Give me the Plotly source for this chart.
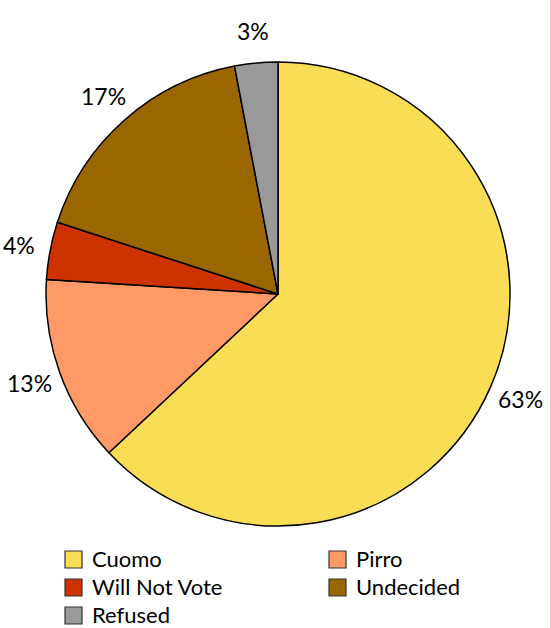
import math
import plotly.graph_objects as go

# Poll results: share of respondents by choice
choices = ["Cuomo", "Pirro", "Will Not Vote", "Undecided", "Refused"]
shares = [63, 13, 4, 17, 3]
slice_colors = ["#F9DE55", "#FF9966", "#CC3300", "#996600", "#999999"]

W, H = 551, 628
cx, cy, R = 278, 294, 232          # pie centre and radius in pixels
label_r = 264                      # distance of percent labels from centre
font_family = "Lato, 'Open Sans', sans-serif"

fig = go.Figure(
    go.Pie(
        labels=choices,
        values=shares,
        sort=False,
        direction="clockwise",
        rotation=0,
        textinfo="none",
        hoverinfo="label+percent",
        showlegend=False,
        marker=dict(colors=slice_colors, line=dict(color="#000000", width=1.5)),
        domain=dict(x=[(cx - R) / W, (cx + R) / W],
                    y=[1 - (cy + R) / H, 1 - (cy - R) / H]),
    )
)

# Percent labels just outside each slice, at the slice's mid-angle
total = sum(shares)
cum = 0
annotations = []
for v in shares:
    mid = (cum + v / 2) / total * 2 * math.pi
    cum += v
    px = cx + label_r * math.sin(mid)
    py = cy - label_r * math.cos(mid)
    annotations.append(dict(
        x=px / W, y=1 - py / H, xref="paper", yref="paper",
        text=f"{v}%", showarrow=False,
        font=dict(family=font_family, size=23, color="#000000"),
        xanchor="center", yanchor="middle",
    ))

# Two-column legend below the pie: coloured square + label
shapes = []
col_x = [65, 329]
row_y0, row_step, box = 559.5, 28, 17
for i, (name, col) in enumerate(zip(choices, slice_colors)):
    x0 = col_x[i % 2]
    yc = row_y0 + (i // 2) * row_step
    shapes.append(dict(
        type="rect", xref="paper", yref="paper",
        x0=x0 / W, x1=(x0 + box) / W,
        y0=1 - (yc - box / 2) / H, y1=1 - (yc + box / 2) / H,
        fillcolor=col, line=dict(color="#333333", width=1.2),
    ))
    annotations.append(dict(
        x=(x0 + box + 9) / W, y=1 - (yc - 1.5) / H, xref="paper", yref="paper",
        text=name, showarrow=False,
        font=dict(family=font_family, size=22, color="#000000"),
        xanchor="left", yanchor="middle", borderpad=0,
    ))

# thin border line along the right edge
shapes.append(dict(type="line", xref="paper", yref="paper",
                   x0=1 - 0.5 / W, x1=1 - 0.5 / W, y0=0, y1=1,
                   line=dict(color="#F6CDCD", width=1)))

fig.update_layout(
    width=W, height=H,
    margin=dict(l=0, r=0, t=0, b=0),
    paper_bgcolor="#FFFFFF",
    plot_bgcolor="#FFFFFF",
    showlegend=False,
    annotations=annotations,
    shapes=shapes,
)

fig.write_html("out.html")
